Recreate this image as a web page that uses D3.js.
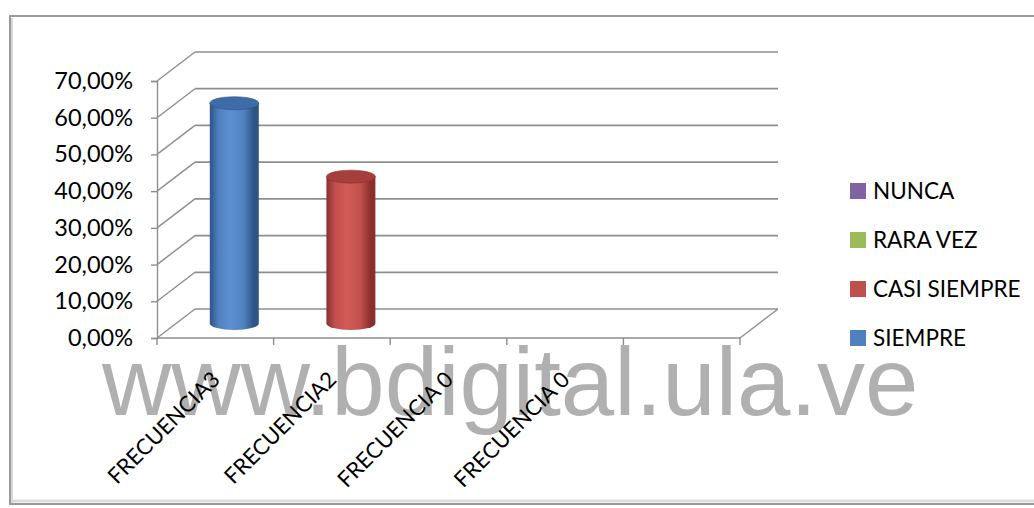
<!DOCTYPE html>
<html><head><meta charset="utf-8">
<script src="https://cdn.jsdelivr.net/npm/d3@7"></script>
<style>body{margin:0;background:#fff} svg{display:block}</style>
</head><body>
<svg id="c" width="1034" height="508"></svg>
<script>
// ---- data ----
const categories = ["FRECUENCIA3", "FRECUENCIA2", "FRECUENCIA 0", "FRECUENCIA 0", ""];
const siempre     = [0.60, 0, 0, 0, 0];
const casiSiempre = [0, 0.40, 0, 0, 0];
const raraVez     = [0, 0, 0, 0, 0];
const nunca       = [0, 0, 0, 0, 0];
const yTicks = [0, 0.1, 0.2, 0.3, 0.4, 0.5, 0.6, 0.7];
const legendNames = ["NUNCA", "RARA VEZ", "CASI SIEMPRE", "SIEMPRE"];
const watermark = "www.bdigital.ula.ve";

const series = [
  {name: "SIEMPRE", values: siempre, color: "#4f81bd", dark: "#2c5486", light: "#5b90d2", top: "#3f6ca6"},
  {name: "CASI SIEMPRE", values: casiSiempre, color: "#c0504d", dark: "#8a2f2d", light: "#d35b57", top: "#a53f3c"},
  {name: "RARA VEZ", values: raraVez, color: "#9bbb59", dark: "#6d8a38", light: "#a9c965", top: "#86a548"},
  {name: "NUNCA", values: nunca, color: "#8064a2", dark: "#574273", light: "#8d71b0", top: "#6e5590"}
];

const svg = d3.select("#c");
const font = "Lato, 'Open Sans', sans-serif";

// frame
svg.append("rect").attr("x", 10).attr("y", 16).attr("width", 1040).attr("height", 488)
  .attr("fill", "#fff").attr("stroke", "#9a9a9a").attr("stroke-width", 2);
svg.append("line").attr("x1", 12).attr("x2", 12).attr("y1", 18).attr("y2", 503).attr("stroke", "#d8d8d8").attr("stroke-width", 2);
svg.append("line").attr("x1", 12).attr("x2", 1034).attr("y1", 501).attr("y2", 501).attr("stroke", "#dcdcdc").attr("stroke-width", 3);

// watermark
svg.append("text").attr("x", 102).attr("y", 415).text(watermark)
  .attr("font-family", "'Liberation Sans', Arial, sans-serif").attr("font-size", 96)
  .attr("fill", "#b0b0b0");

// scales
const x = d3.scaleBand().domain(d3.range(categories.length)).range([157, 740]);
const y = d3.scaleLinear().domain([0, 0.7]).range([338, 81]);
const depthX = 38, depthY = -29;
const grid = "#8e8e8e";

const g = svg.append("g");
// back wall gridlines + side wall lines
yTicks.forEach(t => {
  g.append("line").attr("x1", x.range()[0] + depthX).attr("x2", x.range()[1] + depthX)
    .attr("y1", y(t) + depthY).attr("y2", y(t) + depthY)
    .attr("stroke", grid).attr("stroke-width", 1.7);
  g.append("line").attr("x1", x.range()[0]).attr("x2", x.range()[0] + depthX)
    .attr("y1", y(t)).attr("y2", y(t) + depthY)
    .attr("stroke", grid).attr("stroke-width", 1.4);
});
// floor front and right edge
g.append("line").attr("x1", x.range()[0]).attr("x2", x.range()[1])
  .attr("y1", y(0)).attr("y2", y(0)).attr("stroke", grid).attr("stroke-width", 1.7);
g.append("line").attr("x1", x.range()[1]).attr("x2", x.range()[1] + depthX)
  .attr("y1", y(0)).attr("y2", y(0) + depthY).attr("stroke", grid).attr("stroke-width", 1.4);

// y axis
const yAxis = d3.axisLeft(y).tickValues(yTicks).tickSize(6).tickPadding(18)
  .tickFormat(d => d3.format(".2f")(d * 100).replace(".", ",") + "%");
const ya = svg.append("g").attr("transform", `translate(${x.range()[0]},0)`).call(yAxis);
ya.select(".domain").attr("stroke", grid).attr("stroke-width", 1.4);
ya.selectAll(".tick line").attr("stroke", grid).attr("stroke-width", 1.4);
ya.selectAll(".tick text").attr("font-family", font).attr("font-size", 23.5).attr("fill", "#000");

// category ticks
const catTicks = d3.range(categories.length + 1).map(i => i < categories.length ? x(i) : x.range()[1]);
svg.append("g").selectAll("line").data(catTicks).join("line")
  .attr("x1", d => d).attr("x2", d => d).attr("y1", y(0)).attr("y2", y(0) + 7)
  .attr("stroke", grid).attr("stroke-width", 1.4);

// category labels
svg.append("g").selectAll("text").data(categories).join("text")
  .attr("transform", (d, i) => `translate(${x(i) + x.bandwidth() / 2 + 6},${381}) rotate(-45)`)
  .attr("text-anchor", "end")
  .attr("font-family", font).attr("font-size", 22).attr("fill", "#000")
  .text(d => d);

// cylinders
const defs = svg.append("defs");
series.forEach((s, si) => {
  const gr = defs.append("linearGradient").attr("id", "grad" + si).attr("x1", "0").attr("x2", "1").attr("y1", "0").attr("y2", "0");
  [[0, s.dark], [0.18, s.color], [0.42, s.light], [0.7, s.color], [0.9, s.dark], [1, s.dark]].forEach(([o, c]) =>
    gr.append("stop").attr("offset", o).attr("stop-color", c));
});
const bw = x.bandwidth() * 0.42;
const rx = bw / 2, ry = 6.5;
series.forEach((s, si) => {
  s.values.forEach((v, i) => {
    if (!(v > 0)) return;
    const cx = x(i) + x.bandwidth() / 2 + depthX / 2;
    const y0 = y(0) + depthY / 2, y1 = y(v) + depthY / 2;
    svg.append("path")
      .attr("d", `M${cx - rx},${y1} L${cx - rx},${y0} A${rx},${ry} 0 0 0 ${cx + rx},${y0} L${cx + rx},${y1} Z`)
      .attr("fill", `url(#grad${si})`);
    svg.append("ellipse").attr("cx", cx).attr("cy", y1).attr("rx", rx).attr("ry", ry)
      .attr("fill", s.top).attr("stroke", s.dark).attr("stroke-width", 0.6);
  });
});

// legend
const lg = svg.append("g").selectAll("g").data(legendNames).join("g")
  .attr("transform", (d, i) => `translate(850,${191 + i * 49})`);
lg.append("rect").attr("x", 0).attr("y", -8).attr("width", 16).attr("height", 16)
  .attr("fill", d => series.find(s => s.name === d).color);
lg.append("text").attr("x", 23).attr("y", 0).attr("dy", "0.36em")
  .attr("font-family", font).attr("font-size", 22.5).attr("fill", "#000").text(d => d);
</script>
</body></html>
